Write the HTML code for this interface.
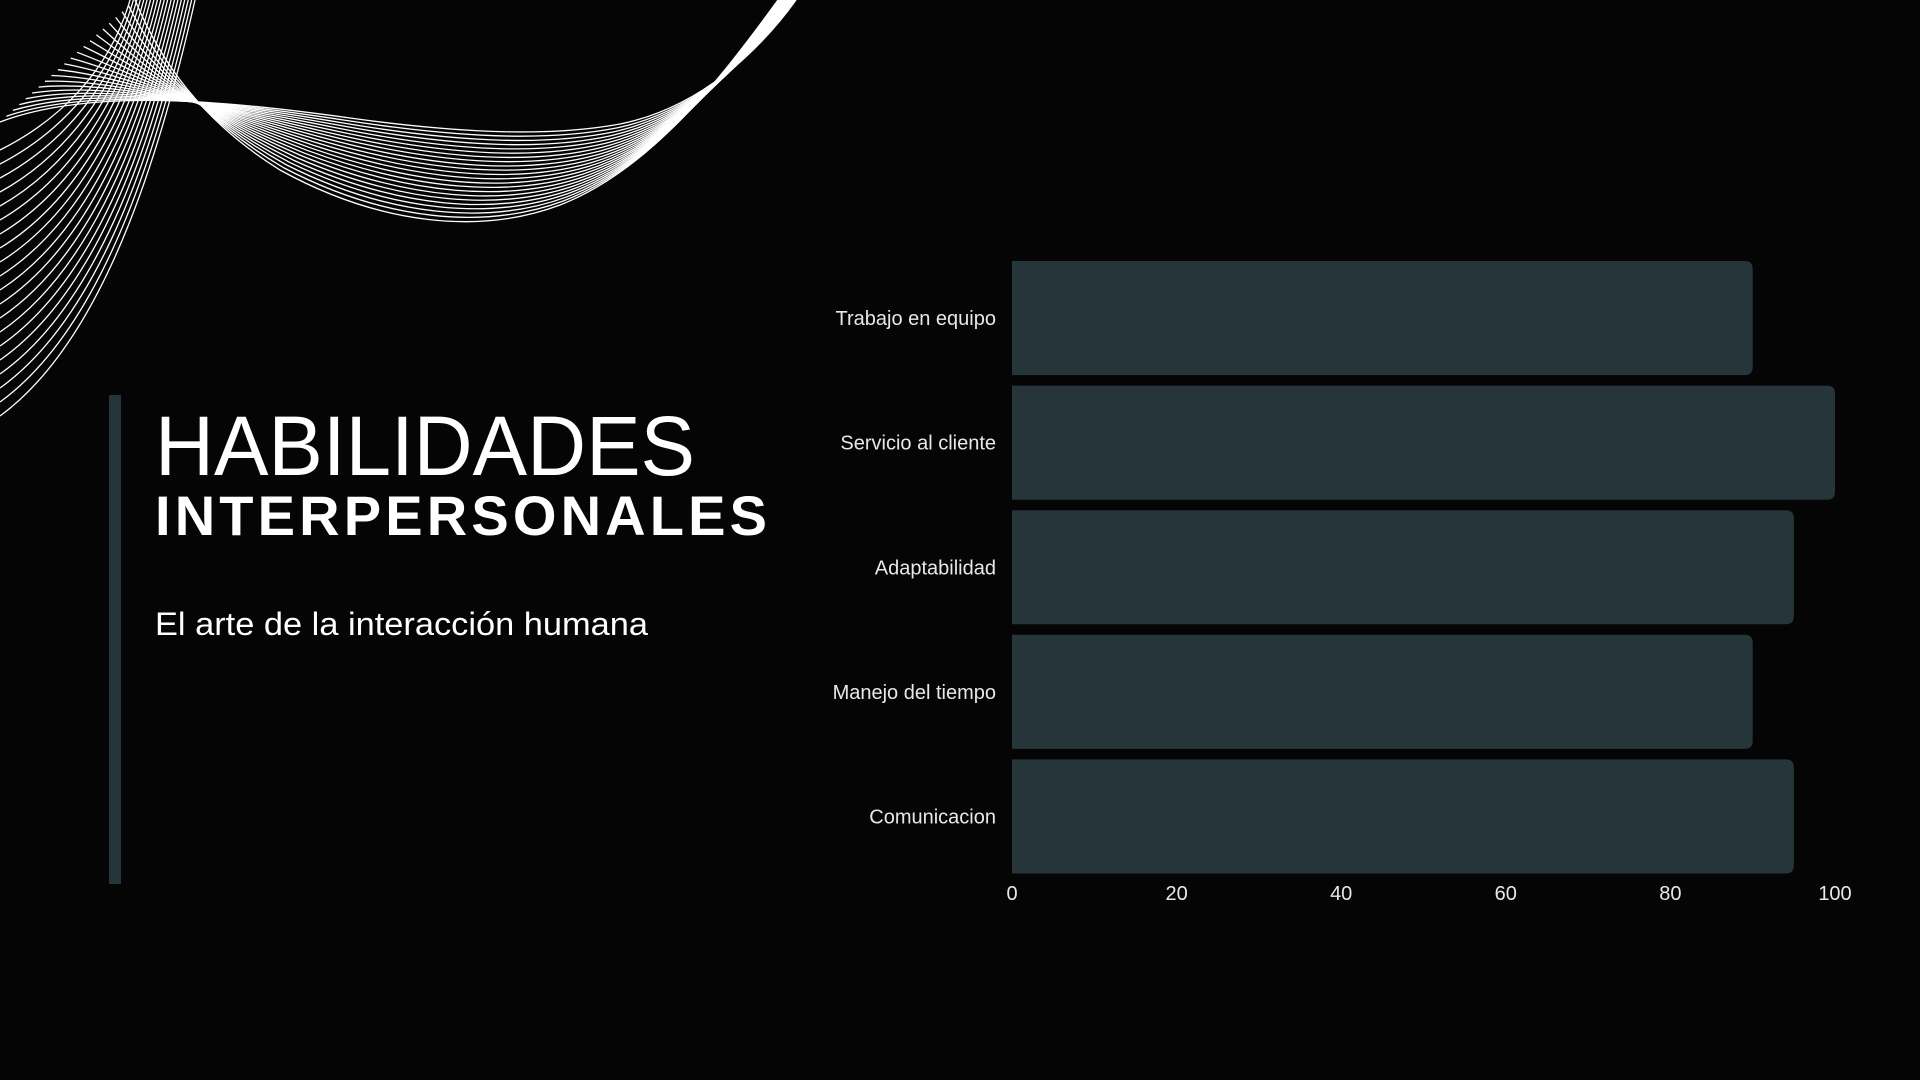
<!DOCTYPE html>
<html><head><meta charset="utf-8"><title>Habilidades interpersonales</title>
<style>
html,body{margin:0;padding:0;background:#050505;}
svg{display:block;}
</style></head>
<body>
<svg id="root" width="1920" height="1080" viewBox="0 0 1920 1080" xmlns="http://www.w3.org/2000/svg">
<rect x="0" y="0" width="1920" height="1080" fill="#050505"/>
<g id="waves" fill="none" stroke="#ffffff" stroke-width="1.3"></g>
<rect x="109" y="395" width="12" height="489" fill="#263539"/>
<text x="155" y="475" fill="#ffffff" font-family="Liberation Sans, sans-serif" font-size="84" textLength="540" lengthAdjust="spacingAndGlyphs">HABILIDADES</text>
<text x="155" y="535" fill="#ffffff" font-family="Liberation Sans, sans-serif" font-weight="bold" font-size="56" textLength="612" lengthAdjust="spacing">INTERPERSONALES</text>
<text x="155" y="635" fill="#ffffff" font-family="Liberation Sans, sans-serif" font-size="32" textLength="493" lengthAdjust="spacingAndGlyphs">El arte de la interacción humana</text>
<g id="chart"></g>
</svg>
<script>
const categories = ["Trabajo en equipo","Servicio al cliente","Adaptabilidad","Manejo del tiempo","Comunicacion"];
const values = [90, 100, 95, 90, 95];
const tickValues = [0, 20, 40, 60, 80, 100];

const NS = "http://www.w3.org/2000/svg";
const chart = document.getElementById("chart");
const X0 = 1012, X1 = 1835, TOP = 261, BOTTOM = 884;
const xMax = 100;
function xScale(v){ return X0 + (X1 - X0) * v / xMax; }
const step = (BOTTOM - TOP) / categories.length;
const barH = step - 10.5;
function yBand(i){ return TOP + i * step; }

categories.forEach(function(c, i){
  const w = xScale(values[i]) - X0;
  const p = document.createElementNS(NS, "path");
  const y = yBand(i), r = 8;
  p.setAttribute("d", "M" + X0 + " " + y + " H" + (X0 + w - r) + " Q" + (X0 + w) + " " + y + " " + (X0 + w) + " " + (y + r) + " V" + (y + barH - r) + " Q" + (X0 + w) + " " + (y + barH) + " " + (X0 + w - r) + " " + (y + barH) + " H" + X0 + " Z");
  p.setAttribute("fill", "#263539");
  
  
  chart.appendChild(p);
  const t = document.createElementNS(NS, "text");
  t.setAttribute("x", X0 - 16);
  t.setAttribute("y", y + barH / 2 + 7);
  t.setAttribute("text-anchor", "end");
  t.setAttribute("fill", "#e8e8e8");
  t.setAttribute("font-family", "Liberation Sans, sans-serif");
  t.setAttribute("font-size", "20");
  t.textContent = c;
  
  
  chart.appendChild(t);
});
tickValues.forEach(function(v){
  const t = document.createElementNS(NS, "text");
  t.setAttribute("x", xScale(v));
  t.setAttribute("y", 900);
  t.setAttribute("text-anchor", "middle");
  t.setAttribute("fill", "#e8e8e8");
  t.setAttribute("font-family", "Liberation Sans, sans-serif");
  t.setAttribute("font-size", "20");
  t.textContent = v;
  
  
  chart.appendChild(t);
});

// decorative waves
const waves = document.getElementById("waves");
function lerp(a, b, t){ return a + (b - a) * t; }
function family(inner, outer, n){
  for (let k = 0; k < n; k++){
    const t = k / (n - 1);
    let d = "";
    for (let j = 0; j < inner.length; j++){
      const pt = lerp(inner[j][0], outer[j][0], t).toFixed(1) + " " + lerp(inner[j][1], outer[j][1], t).toFixed(1);
      d += (j === 0 ? "M" : (j % 3 === 1 ? " C" : " ")) + pt;
    }
    const p = document.createElementNS(NS, "path");
    p.setAttribute("d", d);
    
    
    waves.appendChild(p);
  }
}
family([[0,150],[60,120],[110,70],[130,0]], [[0,416],[90,350],[150,200],[195,0]], 20);
family(
  [[0,122],[90,88],[220,100],[350,118],[480,136],[560,135],[620,124],[700,108],[760,50],[796,0]],
  [[135,0],[160,60],[200,120],[280,170],[380,225],[480,235],[560,205],[650,170],[720,80],[778,0]], 22);
</script>
</body></html>
